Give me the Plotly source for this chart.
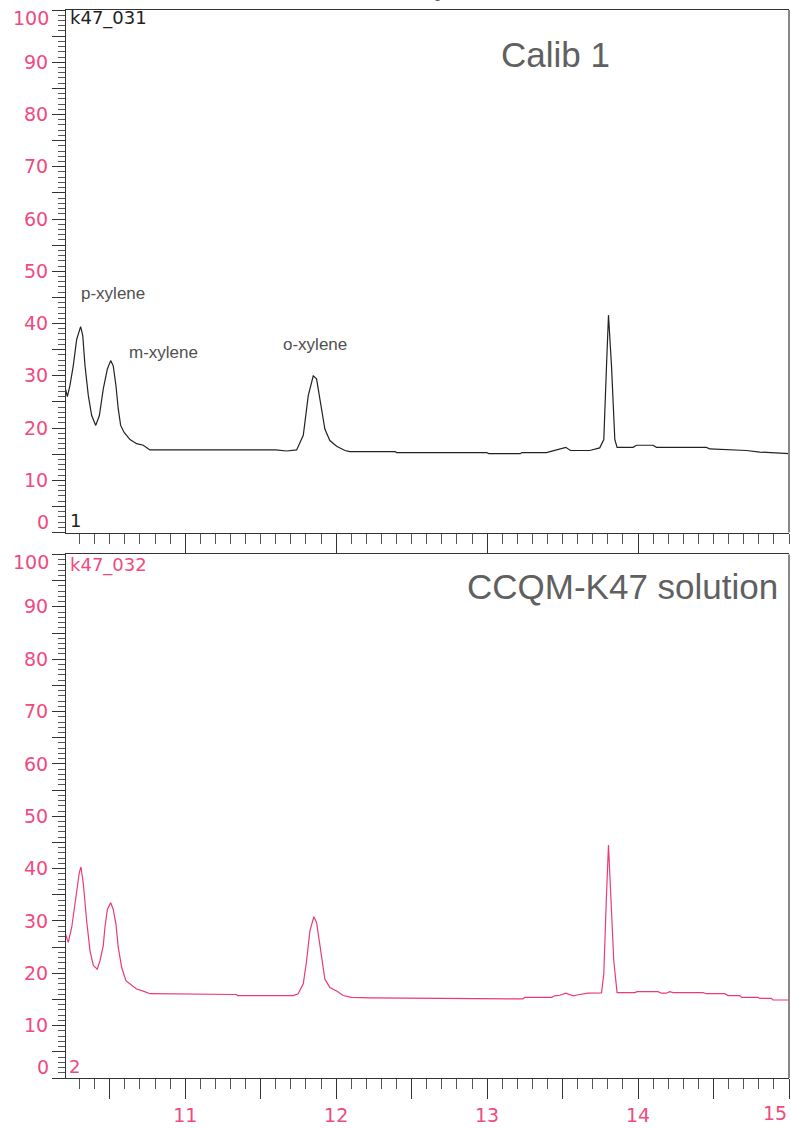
import plotly.graph_objects as go

# ---------------- data ----------------
t_calib = [10.203, 10.219, 10.236, 10.258, 10.281, 10.298, 10.307, 10.321, 10.336, 10.358,
           10.380, 10.407, 10.431, 10.457, 10.484, 10.506, 10.523, 10.541, 10.556, 10.572,
           10.594, 10.634, 10.678, 10.722, 10.766, 11.600, 11.672, 11.738, 11.782, 11.815,
           11.848, 11.870, 11.897, 11.925, 11.958, 12.003, 12.058, 12.091, 12.390, 12.400,
           12.998, 13.010, 13.220, 13.230, 13.393, 13.460, 13.521, 13.552, 13.680, 13.746,
           13.773, 13.791, 13.804, 13.824, 13.846, 13.861, 13.967, 13.989, 14.099, 14.122,
           14.453, 14.475, 14.585, 14.718, 14.806, 14.927, 15.004]
v_calib = [27.9, 26.0, 28.1, 31.9, 37.0, 38.9, 39.4, 37.7, 31.9, 26.2,
           22.4, 20.5, 22.4, 27.5, 31.3, 32.9, 31.9, 28.1, 23.7, 20.5,
           19.2, 17.8, 17.0, 16.7, 15.8, 15.8, 15.6, 15.8, 18.6, 26.2,
           30.0, 29.4, 24.9, 19.8, 17.6, 16.5, 15.7, 15.5, 15.5, 15.3,
           15.3, 15.1, 15.1, 15.3, 15.3, 15.9, 16.3, 15.7, 15.7, 16.2,
           17.8, 31.9, 41.6, 31.9, 17.8, 16.3, 16.3, 16.7, 16.7, 16.3,
           16.3, 16.0, 15.9, 15.7, 15.4, 15.3, 15.1]

t_sample = [10.203, 10.225, 10.248, 10.281, 10.298, 10.309, 10.325, 10.347, 10.369, 10.391,
            10.417, 10.435, 10.457, 10.468, 10.484, 10.506, 10.523, 10.541, 10.556, 10.579,
            10.607, 10.645, 10.678, 10.722, 10.766, 11.340, 11.345, 11.715, 11.748, 11.782,
            11.804, 11.826, 11.852, 11.870, 11.897, 11.925, 11.958, 12.003, 12.046, 12.102,
            12.223, 12.952, 13.238, 13.250, 13.427, 13.448, 13.482, 13.521, 13.548, 13.571,
            13.603, 13.669, 13.758, 13.773, 13.791, 13.804, 13.819, 13.839, 13.861, 13.978,
            13.994, 14.132, 14.155, 14.188, 14.210, 14.232, 14.431, 14.453, 14.574, 14.596,
            14.674, 14.685, 14.795, 14.806, 14.883, 14.894, 15.005]
v_sample = [27.8, 25.9, 28.8, 36.4, 39.2, 40.3, 37.0, 30.0, 24.3, 21.5,
            20.8, 22.4, 25.3, 28.8, 32.2, 33.5, 32.2, 29.4, 25.0, 21.1,
            18.6, 17.7, 17.0, 16.6, 16.1, 15.95, 15.75, 15.75, 16.1, 18.0,
            22.4, 28.1, 30.8, 29.7, 24.3, 18.9, 17.3, 16.6, 15.75, 15.4,
            15.3, 15.1, 15.1, 15.4, 15.4, 15.7, 15.8, 16.2, 16.0, 15.7,
            15.9, 16.2, 16.25, 19.9, 35.1, 44.5, 35.1, 22.4, 16.3, 16.3,
            16.5, 16.5, 16.2, 16.2, 16.5, 16.3, 16.3, 16.1, 16.1, 15.75,
            15.75, 15.4, 15.4, 15.2, 15.2, 14.9, 14.9]

x_range = [10.21, 15.0]
x_major = [10.5, 11, 11.5, 12, 12.5, 13, 13.5, 14, 14.5, 15]
x_labels = ["", "11", "", "12", "", "13", "", "14", "", ""]
y_major = list(range(0, 101, 5))
y_labels = ["" if (v % 10 or v in (0, 100)) else str(v) for v in y_major]

peak_names = ["p-xylene", "m-xylene", "o-xylene"]
panel_titles = ["Calib 1", "CCQM-K47 solution"]
file_names = ["k47_031", "k47_032"]

# ---------------- styling ----------------
W, H = 791, 1128
L, R, T, B = 66, 2, 10, 47
PW, PH = W - L - R, H - T - B
PINK = "#ec3a77"
LABELPINK = "#f04a80"
DARK = "#222222"
GRAY = "#606060"
AX = "#333333"
TICKFONT = dict(family="DejaVu Sans", size=19, color=LABELPINK)


def px(x):
    return (x - L) / PW


def py(y):
    return (H - B - y) / PH


top_dom = [py(534), 1.0]
bot_dom = [0.0, py(556)]

fig = go.Figure()
fig.add_trace(go.Scatter(x=t_calib, y=v_calib, mode="lines", xaxis="x", yaxis="y",
                         line=dict(color=DARK, width=1.2), showlegend=False))
fig.add_trace(go.Scatter(x=t_sample, y=v_sample, mode="lines", xaxis="x2", yaxis="y2",
                         line=dict(color=PINK, width=1.2), showlegend=False))


def xaxis_def(domain_anchor, labels):
    return dict(range=x_range, anchor=domain_anchor, showline=True, linecolor=AX, linewidth=1,
                mirror=True, showgrid=False, zeroline=False,
                ticks="outside", tickmode="array", tickvals=x_major,
                ticktext=x_labels, ticklen=20, tickwidth=1, tickcolor=AX,
                showticklabels=labels, tickfont=TICKFONT,
                minor=dict(tickmode="linear", tick0=10.0, dtick=0.1, ticks="outside",
                           ticklen=10, tickwidth=1, tickcolor="#555555"))


def yaxis_def(domain, anchor):
    return dict(range=[0, 100], domain=domain, anchor=anchor, showline=True, linecolor=AX,
                linewidth=1, showgrid=False, zeroline=False,
                ticks="outside", tickmode="array", tickvals=y_major, ticktext=y_labels,
                ticklen=13, tickwidth=1, tickcolor=AX, tickfont=TICKFONT,
                minor=dict(tickmode="linear", tick0=0, dtick=1, ticks="outside",
                           ticklen=7, tickwidth=1, tickcolor="#555555"))


def note(text, x, y, font, xanchor="left"):
    return dict(text=text, xref="paper", x=px(x), xanchor=xanchor, yref="paper", y=py(y),
                yanchor="middle", showarrow=False, font=font)


ann = []
# y labels 100 and 0 shifted inward, as in the reference
for yref in ("y", "y2"):
    ann.append(dict(text="100", xref="paper", x=0, xanchor="right", xshift=-15,
                    yref=yref, y=100, yanchor="middle", yshift=-8, showarrow=False, font=TICKFONT))
    ann.append(dict(text="0", xref="paper", x=0, xanchor="right", xshift=-15,
                    yref=yref, y=0, yanchor="middle", yshift=11, showarrow=False, font=TICKFONT))
# x label 15 shifted left to stay on page
ann.append(dict(text="15", xref="x2", x=14.91, xanchor="center", yref="paper", y=0,
                yanchor="top", yshift=-22, showarrow=False, font=TICKFONT))

# inner file names / trace numbers
ann.append(note(file_names[0], 68, 18, dict(family="DejaVu Sans", size=18, color=DARK)))
ann.append(note(file_names[1], 68, 567, dict(family="DejaVu Sans", size=18, color=LABELPINK)))
ann.append(note("1", 68, 522, dict(family="DejaVu Sans", size=18, color=DARK)))
ann.append(note("2", 67, 1069, dict(family="DejaVu Sans", size=18, color=LABELPINK)))

# panel titles
ann.append(note(panel_titles[0], 612, 55, dict(family="Liberation Sans", size=35, color=GRAY), "right"))
ann.append(note(panel_titles[1], 780, 588, dict(family="Liberation Sans", size=35, color=GRAY), "right"))

# peak names
peak_pos = [(79, 294), (127, 353), (281, 345)]
for name, (xx, yy) in zip(peak_names, peak_pos):
    ann.append(note(name, xx, yy, dict(family="Liberation Sans", size=17, color="#505050")))

# overall title, cut by the top of the page in the reference
ann.append(dict(text="GC-FID of xylenes", xref="paper", x=px(403), xanchor="center",
                yref="paper", y=py(4), yanchor="bottom", showarrow=False,
                font=dict(family="Liberation Sans", size=26, color=GRAY)))

shapes = [
    dict(type="line", xref="paper", yref="paper", x0=1, x1=1, y0=top_dom[0], y1=top_dom[1],
         line=dict(color="#888888", width=2)),
    dict(type="line", xref="paper", yref="paper", x0=1, x1=1, y0=bot_dom[0], y1=bot_dom[1],
         line=dict(color="#888888", width=2)),
]

fig.update_layout(
    width=W, height=H, margin=dict(l=L, r=R, t=T, b=B),
    paper_bgcolor="white", plot_bgcolor="white",
    xaxis=xaxis_def("y", False),
    xaxis2=xaxis_def("y2", True),
    yaxis=yaxis_def(top_dom, "x"),
    yaxis2=yaxis_def(bot_dom, "x2"),
    annotations=ann, shapes=shapes, showlegend=False,
)

fig.write_html("out.html")
